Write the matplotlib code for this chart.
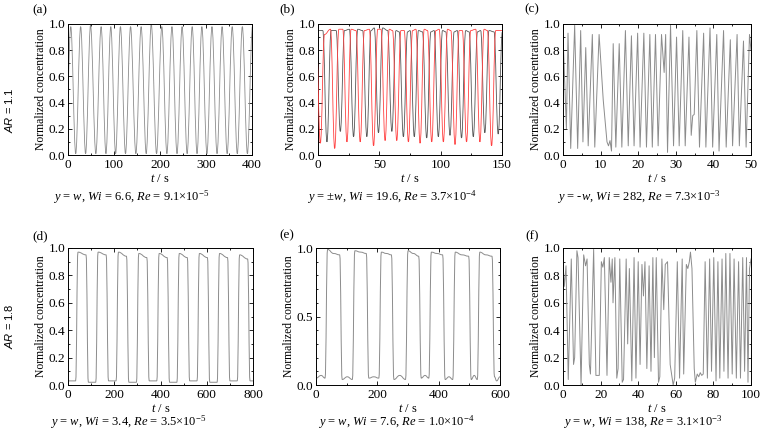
import numpy as np
import matplotlib
matplotlib.use("Agg")
import matplotlib.pyplot as plt
from matplotlib.path import Path
from matplotlib.patches import PathPatch
from matplotlib.ticker import MultipleLocator, FormatStrFormatter

plt.rcParams['font.family'] = 'serif'
plt.rcParams['font.serif'] = ['Liberation Serif', 'DejaVu Serif']
plt.rcParams['mathtext.fontset'] = 'custom'
plt.rcParams['mathtext.rm'] = 'Liberation Serif'
plt.rcParams['mathtext.it'] = 'Liberation Serif:italic'
plt.rcParams['mathtext.bf'] = 'Liberation Sans:italic'

# (a) AR = 1.1, y = w, Wi = 6.6
a_peak_t = [6, 27.5, 49, 72, 93, 114, 136, 159, 181, 204, 226, 248, 270, 291, 313, 335, 357, 379]
a_peak_v = [0.98, 0.98, 0.99, 0.98, 0.98, 0.98, 0.98, 0.98, 1.0, 0.98, 0.98, 0.98, 0.98, 0.98, 0.98, 0.98, 0.98, 0.98]
a_low_v = 0.01

# (b) AR = 1.1, y = +-w, two probes (black / red)
b_black_trough_t = [7.3, 18.2, 29.0, 39.8, 49.3, 60.2, 69.6, 78.5, 88.6, 98.1, 107.6, 117.0, 126.6, 136.0, 146.9]
b_black_trough_v = [0.10, 0.18, 0.14, 0.14, 0.17, 0.18, 0.14, 0.14, 0.13, 0.14, 0.15, 0.13, 0.14, 0.17, 0.16]
b_black_top = [0.95, 0.95, 0.96, 0.95, 0.97, 0.95, 0.94, 0.95, 0.94, 0.95, 0.94, 0.95, 0.94, 0.95, 0.94]
b_red_trough_t = [1.9, 13.6, 23.6, 34.4, 45.3, 54.7, 64.2, 73.7, 83.2, 92.7, 102.2, 111.7, 121.1, 132.0, 141.5]
b_red_trough_v = [0.09, 0.05, 0.10, 0.10, 0.07, 0.11, 0.11, 0.10, 0.09, 0.10, 0.10, 0.08, 0.10, 0.10, 0.07]
b_red_top = [0.92, 0.96, 0.96, 0.95, 0.96, 0.96, 0.95, 0.95, 0.96, 0.95, 0.96, 0.95, 0.95, 0.96, 0.95]

# (c) AR = 1.1, y = -w, Wi = 282 (extrema)
c_t = [0.0, 0.9, 1.33, 2.05, 3.1, 3.9, 4.7, 5.3, 6.05, 6.7, 7.8, 8.45, 9.6, 10.7, 11.7, 12.1, 12.5, 12.9,
       13.35, 14.05, 14.95, 15.65, 16.6, 17.35, 18.2, 18.9, 19.85, 20.5, 21.5, 22.2, 23.1, 23.75, 24.6, 25.3,
       26.2, 26.9, 27.3, 27.8, 28.6, 29.4, 30.2, 30.9, 31.85, 32.5, 33.5, 34.1, 34.5, 34.9, 35.6, 36.3,
       37.4, 38.0, 39.1, 39.8, 40.9, 41.5, 42.7, 43.4, 44.5, 45.1, 46.3, 46.9, 48.0, 48.7, 49.6, 50.0]
c_v = [0.92, 0.20, 0.93, 0.05, 0.99, 0.05, 0.95, 0.10, 0.82, 0.07, 0.92, 0.06, 0.92, 0.42, 0.10, 0.07, 0.11, 0.03,
       0.85, 0.06, 0.85, 0.06, 0.95, 0.07, 0.91, 0.07, 0.93, 0.06, 0.93, 0.06, 0.92, 0.06, 0.92, 0.07,
       0.92, 0.63, 0.92, 0.02, 0.99, 0.07, 0.90, 0.07, 0.95, 0.07, 0.90, 0.15, 0.30, 0.31, 0.95, 0.06,
       0.93, 0.06, 0.97, 0.06, 0.92, 0.03, 0.95, 0.06, 0.88, 0.07, 0.92, 0.07, 0.87, 0.06, 0.92, 0.80]

# (d) AR = 1.8, y = w, Wi = 3.4 (high plateaus)
d_top_start = [38, 125, 213, 301, 389, 476, 563, 650, 737]
d_top_end = [83, 170, 258, 346, 434, 521, 608, 695, 782]
d_top_v0 = [0.97, 0.97, 0.97, 0.96, 0.96, 0.96, 0.96, 0.96, 0.95]
d_top_v1 = [0.95, 0.95, 0.94, 0.93, 0.93, 0.93, 0.93, 0.93, 0.92]
d_low_v = [0.03, 0.02, 0.03, 0.02, 0.03, 0.02, 0.03, 0.02, 0.03, 0.03]

# (e) AR = 1.8, y = w, Wi = 7.6
e_top_start = [33.6, 122.6, 209, 296, 372, 450, 530]
e_top_end = [81.3, 168, 250, 339, 417, 502, 578]
e_top_v0 = [0.99, 0.98, 0.97, 0.98, 0.97, 0.97, 0.97]
e_top_vm = [0.96, 0.97, 0.96, 0.96, 0.96, 0.95, 0.95]
e_top_v1 = [0.95, 0.96, 0.95, 0.94, 0.95, 0.94, 0.94]
e_low_v = [0.05, 0.04, 0.05, 0.04, 0.05, 0.04, 0.04, 0.06]
e_low_vm = [0.07, 0.06, 0.06, 0.07, 0.07, 0.06, 0.07, 0.03]

# (f) AR = 1.8, y = w, Wi = 138 (extrema)
f_t = [0, 0.7, 1.6, 2.8, 4.4, 5.6, 6.2, 7.4, 8.0, 9.6, 11.0, 12.0, 12.8, 14.0, 14.6, 16.3, 17.5, 19.3,
       20.4, 21.2, 22.0, 23.4, 24.6, 25.5, 26.2, 26.6, 27.6, 28.6, 29.3, 30.2, 31.5, 32.2, 33.6, 34.4,
       35.3, 36.6, 37.8, 38.8, 40.0, 41.0, 42.0, 42.8, 43.6, 44.6, 45.8, 46.8, 47.8, 48.6, 49.6, 50.8,
       51.5, 52.6, 53.6, 54.4, 55.6, 57.0, 58.6, 59.4, 60.8, 62.0, 63.4, 64.2, 65.6, 66.4, 67.2, 67.8,
       68.6, 69.8, 70.4, 71.4, 72.2, 73.0, 73.8, 74.6, 75.6, 76.8, 78.0, 79.0, 80.2, 81.4, 82.4, 83.4,
       84.6, 85.6, 86.6, 87.8, 88.8, 90.0, 91.0, 92.2, 93.4, 94.4, 95.6, 96.6, 97.6, 98.4, 99.2, 100]
f_v = [0.88, 0.72, 0.87, 0.04, 0.92, 0.15, 0.20, 0.98, 0.93, 0.0, 0.95, 0.87, 0.92, 0.15, 0.08, 0.99, 0.07, 0.07,
       0.90, 0.86, 0.93, 0.07, 0.93, 0.75, 0.92, 0.60, 0.93, 0.05, 0.12, 0.92, 0.02, 0.04, 0.92, 0.30,
       0.85, 0.03, 0.93, 0.05, 0.90, 0.15, 0.88, 0.65, 0.90, 0.12, 0.87, 0.10, 0.93, 0.20, 0.93, 0.02,
       0.06, 0.92, 0.55, 0.88, 0.90, 0.15, 0.0, 0.05, 0.90, 0.05, 0.92, 0.08, 0.88, 0.85, 0.90, 0.97,
       0.85, 0.12, 0.02, 0.08, 0.06, 0.09, 0.07, 0.08, 0.90, 0.05, 0.92, 0.10, 0.93, 0.03, 0.90, 0.05,
       0.92, 0.10, 0.96, 0.05, 0.96, 0.08, 0.92, 0.05, 0.90, 0.05, 0.93, 0.10, 0.93, 0.02, 0.85, 0.92]

captions = [r'$y$ = $w$, $Wi$ = 6.6, $Re$ = 9.1×10$^{-5}$',
            r'$y$ = ±$w$, $Wi$ = 19.6, $Re$ = 3.7×10$^{-4}$',
            r'$y$ = -$w$, $Wi$ = 282, $Re$ = 7.3×10$^{-3}$',
            r'$y$ = $w$, $Wi$ = 3.4, $Re$ = 3.5×10$^{-5}$',
            r'$y$ = $w$, $Wi$ = 7.6, $Re$ = 1.0×10$^{-4}$',
            r'$y$ = $w$, $Wi$ = 138, $Re$ = 3.1×10$^{-3}$']
letters = ['(a)', '(b)', '(c)', '(d)', '(e)', '(f)']

GRAY = '#8c8c8c'


def smooth(ax, t, y, k=0.4, color=GRAY, lw=0.7, z=2):
    # cubic bezier through the points with flat tangents at every point
    verts = [(t[0], y[0])]
    codes = [Path.MOVETO]
    for i in range(1, len(t)):
        dt = t[i] - t[i - 1]
        verts += [(t[i - 1] + k * dt, y[i - 1]), (t[i] - k * dt, y[i]), (t[i], y[i])]
        codes += [Path.CURVE4] * 3
    ax.add_patch(PathPatch(Path(verts, codes), fill=False, edgecolor=color, lw=lw, zorder=z))


def trough_series(tt, tv, top, half=3.4):
    t, y = [], []
    for x, v, h in zip(tt, tv, top):
        t += [x - half, x, x + half]
        y += [h, v, h]
    return t, y


def square_series(ts, te, v0, v1, low, vm=None, lowm=None, tmax=800, rise=5):
    t, y = [0], [low[0]]
    if lowm is not None:
        t.append(ts[0] / 2); y.append(lowm[0])
    for i in range(len(ts)):
        t.append(ts[i] - rise); y.append(low[i])
        t.append(ts[i] + rise); y.append(v0[i])
        if vm is not None:
            t.append((ts[i] + te[i]) / 2); y.append(vm[i])
        t.append(te[i] - rise); y.append(v1[i])
        t.append(te[i] + rise); y.append(low[i + 1])
        nxt = ts[i + 1] if i + 1 < len(ts) else tmax
        if lowm is not None:
            t.append((te[i] + nxt) / 2); y.append(lowm[i + 1])
    t.append(tmax); y.append(low[-1])
    return t, y


fig = plt.figure(figsize=(7.6, 4.36), dpi=100)
W, H = 760.0, 436.0
boxes = [(68, 24, 252, 155), (318, 24, 502, 155), (563, 24, 751, 155),
         (68, 248, 253, 385), (316, 248, 500, 385), (563, 248, 751, 385)]
axes = []
for (x0, y0, x1, y1) in boxes:
    ax = fig.add_axes([x0 / W, 1 - y1 / H, (x1 - x0) / W, (y1 - y0) / H])
    axes.append(ax)

# (a)
ta, ya = [-5], [a_low_v]
for i, (p, v) in enumerate(zip(a_peak_t, a_peak_v)):
    ta.append(p); ya.append(v)
    nxt = a_peak_t[i + 1] if i + 1 < len(a_peak_t) else p + 22
    ta.append((p + nxt) / 2); ya.append(a_low_v)
ta.append(nxt); ya.append(0.98)
smooth(axes[0], ta, ya, k=0.36, lw=0.6)

# (b)
tb, yb = trough_series(b_black_trough_t, b_black_trough_v, b_black_top)
smooth(axes[1], [-2] + tb + [152], [0.95] + yb + [0.95], k=0.42, color='#555555', lw=0.6)
tr, yr = trough_series(b_red_trough_t, b_red_trough_v, b_red_top)
smooth(axes[1], [-3] + tr + [152], [0.92] + yr + [0.95], k=0.42, color='#ff4040', lw=0.6, z=3)

# (c)
axes[2].plot(c_t, c_v, color=GRAY, lw=0.7)

# (d)
td, yd = square_series(d_top_start, d_top_end, d_top_v0, d_top_v1, d_low_v, tmax=800, rise=5)
smooth(axes[3], td, yd, k=0.45)

# (e)
te_, ye_ = square_series(e_top_start, e_top_end, e_top_v0, e_top_v1, e_low_v,
                         vm=e_top_vm, lowm=e_low_vm, tmax=600, rise=4)
smooth(axes[4], te_, ye_, k=0.45)

# (f)
axes[5].plot(f_t, f_v, color=GRAY, lw=0.7)

xlims = [400, 150, 50, 800, 600, 100]
xmaj = [100, 50, 10, 200, 200, 20]
for i, ax in enumerate(axes):
    ax.set_xlim(0, xlims[i])
    ax.set_ylim(0, 1)
    ax.xaxis.set_major_locator(MultipleLocator(xmaj[i]))
    ax.xaxis.set_minor_locator(MultipleLocator(xmaj[i] / 2))
    if i == 4:
        ax.yaxis.set_major_locator(MultipleLocator(0.5))
    else:
        ax.yaxis.set_major_locator(MultipleLocator(0.2))
    ax.yaxis.set_minor_locator(MultipleLocator(0.1))
    ax.yaxis.set_major_formatter(FormatStrFormatter('%.1f'))
    ax.tick_params(which='both', direction='in', top=True, right=True, labelsize=9.5, width=0.6)
    ax.tick_params(axis='y', pad=2)
    ax.tick_params(axis='x', pad=3)
    ax.tick_params(which='major', length=3)
    ax.tick_params(which='minor', length=1.5)
    for s in ax.spines.values():
        s.set_linewidth(0.7)
    ax.set_ylabel('Normalized concentration', fontsize=8.4, labelpad=1)
    ax.set_xlabel(r'$t$ / s', fontsize=9, labelpad=1)

cap_x = [131, 392, 639, 128, 396, 643]
cap_y = [197, 197, 197, 422, 422, 422]
let_x = [40, 287, 532, 40, 287, 532]
let_y = [10, 9, 9, 236, 235, 236]
for i in range(6):
    fig.text(cap_x[i] / W, 1 - cap_y[i] / H, captions[i], fontsize=9, ha='center', va='center')
    fig.text(let_x[i] / W, 1 - let_y[i] / H, letters[i], fontsize=9.5, ha='center', va='center')

fig.text(9 / W, 1 - 110 / H, r'$\mathbf{AR}$ = 1.1', family='Liberation Sans', fontsize=8,
         rotation=90, ha='center', va='center')
fig.text(9 / W, 1 - 326 / H, r'$\mathbf{AR}$ = 1.8', family='Liberation Sans', fontsize=8,
         rotation=90, ha='center', va='center')

fig.savefig('out.png', dpi=100)
